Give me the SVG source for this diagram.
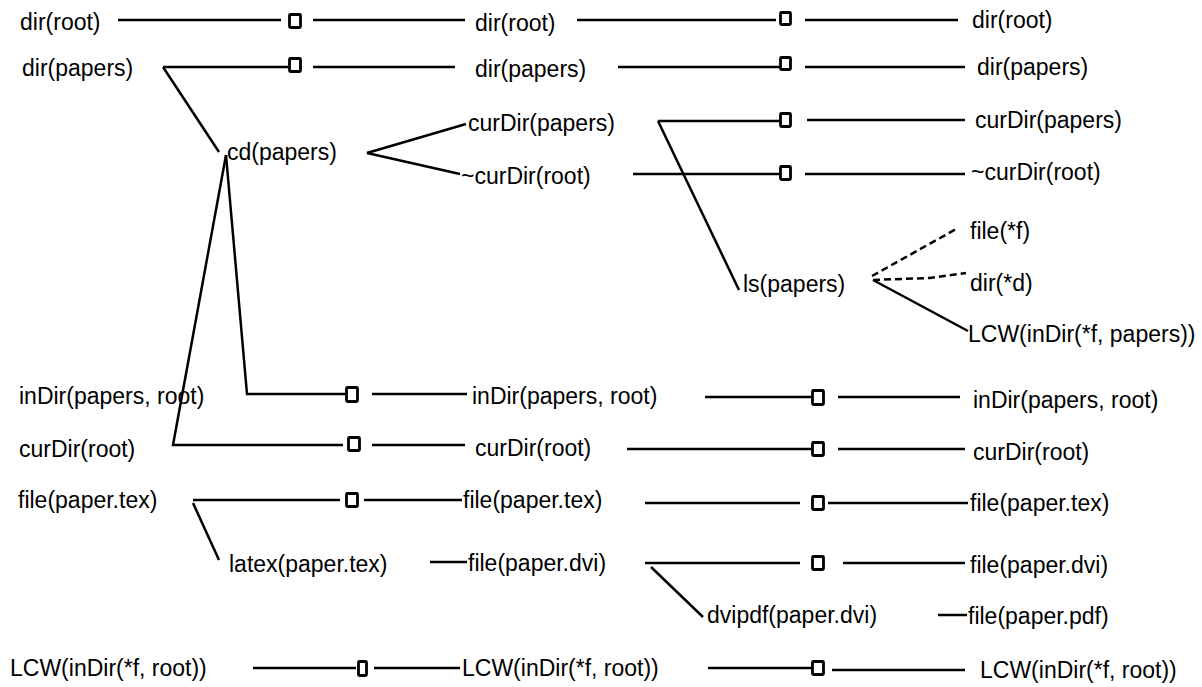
<svg xmlns="http://www.w3.org/2000/svg" width="1202" height="687" viewBox="0 0 1202 687">
  <style>
    text { font-family: "Liberation Sans", Arial, Helvetica, sans-serif; font-size: 23px; fill: #000; }
    .edge { fill: none; stroke: #000; stroke-width: 2.5; stroke-linecap: butt; stroke-linejoin: miter; }
    .dash { fill: none; stroke: #000; stroke-width: 2.5; stroke-dasharray: 7 4; }
    .frame { fill: #fff; stroke: #000; stroke-width: 2.8; }
  </style>
  <rect width="1202" height="687" fill="#fff"/>

  <!-- connectors -->
  <g id="connectors">
    <!-- dir(root) persists -->
    <line class="edge" x1="118" y1="20" x2="281" y2="20"/>
    <line class="edge" x1="313" y1="20" x2="465" y2="20"/>
    <line class="edge" x1="577" y1="20" x2="776" y2="20"/>
    <line class="edge" x1="805" y1="20" x2="958" y2="20"/>
    <!-- dir(papers) persists -->
    <line class="edge" x1="163" y1="67" x2="288" y2="67"/>
    <line class="edge" x1="313" y1="67" x2="455" y2="67"/>
    <line class="edge" x1="618" y1="67" x2="780" y2="67"/>
    <line class="edge" x1="805" y1="67" x2="965" y2="67"/>
    <!-- dir(papers) enables cd(papers) -->
    <line class="edge" x1="163" y1="67" x2="219" y2="152"/>
    <!-- cd(papers) effects -->
    <line class="edge" x1="367" y1="153" x2="466" y2="124"/>
    <line class="edge" x1="367" y1="153" x2="460" y2="174"/>
    <!-- cd(papers) preconditions -->
    <polyline class="edge" points="226,155 247,394 345,394"/>
    <polyline class="edge" points="226,155 173,445 343,445"/>
    <!-- curDir(papers) -->
    <line class="edge" x1="658" y1="121" x2="780" y2="121"/>
    <line class="edge" x1="807" y1="120" x2="965" y2="120"/>
    <line class="edge" x1="658" y1="121" x2="739" y2="290"/>
    <!-- ~curDir(root) -->
    <line class="edge" x1="633" y1="174" x2="780" y2="174"/>
    <line class="edge" x1="805" y1="174" x2="965" y2="174"/>
    <!-- ls(papers) effects -->
    <line class="dash" x1="872" y1="276" x2="958" y2="228"/>
    <polyline class="dash" points="873,280 930,278 966,273"/>
    <line class="edge" x1="873" y1="280" x2="968" y2="331"/>
    <!-- inDir(papers, root) -->
    <line class="edge" x1="372" y1="394" x2="467" y2="394"/>
    <line class="edge" x1="705" y1="397" x2="812" y2="397"/>
    <line class="edge" x1="838" y1="397" x2="960" y2="397"/>
    <!-- curDir(root) -->
    <line class="edge" x1="372" y1="445" x2="465" y2="445"/>
    <line class="edge" x1="627" y1="449" x2="812" y2="449"/>
    <line class="edge" x1="838" y1="449" x2="965" y2="449"/>
    <!-- file(paper.tex) -->
    <line class="edge" x1="193" y1="500" x2="340" y2="500"/>
    <line class="edge" x1="364" y1="500" x2="462" y2="500"/>
    <line class="edge" x1="193" y1="503" x2="219" y2="560"/>
    <line class="edge" x1="645" y1="503" x2="800" y2="503"/>
    <line class="edge" x1="828" y1="503" x2="968" y2="503"/>
    <!-- latex(paper.tex) effect -->
    <line class="edge" x1="430" y1="562" x2="467" y2="562"/>
    <!-- file(paper.dvi) -->
    <line class="edge" x1="645" y1="563" x2="800" y2="563"/>
    <line class="edge" x1="843" y1="563" x2="965" y2="563"/>
    <line class="edge" x1="651" y1="567" x2="703" y2="617"/>
    <!-- dvipdf(paper.dvi) effect -->
    <line class="edge" x1="938" y1="615" x2="967" y2="615"/>
    <!-- LCW(inDir(*f, root)) -->
    <line class="edge" x1="253" y1="668" x2="356" y2="668"/>
    <line class="edge" x1="374" y1="668" x2="460" y2="668"/>
    <line class="edge" x1="708" y1="668" x2="812" y2="668"/>
    <line class="edge" x1="832" y1="670" x2="965" y2="670"/>
  </g>

  <!-- frame markers on persisting facts -->
  <g id="frame-marks">
    <rect class="frame" x="289.5" y="14.5" width="11" height="13" rx="1"/>
    <rect class="frame" x="780.5" y="12.5" width="10" height="12" rx="1"/>
    <rect class="frame" x="289.5" y="58.5" width="11" height="13" rx="1"/>
    <rect class="frame" x="780.5" y="57.5" width="10" height="12" rx="1"/>
    <rect class="frame" x="780.5" y="113.5" width="10" height="13" rx="1"/>
    <rect class="frame" x="780.5" y="166.5" width="10" height="13" rx="1"/>
    <rect class="frame" x="346.5" y="387.5" width="11" height="14" rx="1"/>
    <rect class="frame" x="812.5" y="390.5" width="11" height="14" rx="1"/>
    <rect class="frame" x="348.5" y="437.5" width="11" height="13" rx="1"/>
    <rect class="frame" x="812.5" y="442.5" width="11" height="13" rx="1"/>
    <rect class="frame" x="346.5" y="493.5" width="11" height="13" rx="1"/>
    <rect class="frame" x="812.5" y="496.5" width="11" height="13" rx="1"/>
    <rect class="frame" x="812.5" y="556.5" width="11" height="13" rx="1"/>
    <rect class="frame" x="358.5" y="661.5" width="8" height="14" rx="1"/>
    <rect class="frame" x="812.5" y="661.5" width="11" height="13" rx="1"/>
  </g>

  <!-- initial state -->
  <g id="n-dir-root-0"><text x="20" y="30">dir(root)</text></g>
  <g id="n-dir-papers-0"><text x="22" y="76">dir(papers)</text></g>
  <g id="n-indir-0"><text x="19" y="404">inDir(papers, root)</text></g>
  <g id="n-curdir-root-0"><text x="19" y="457">curDir(root)</text></g>
  <g id="n-file-tex-0"><text x="18" y="508">file(paper.tex)</text></g>
  <g id="n-lcw-root-0"><text x="10" y="676">LCW(inDir(*f, root))</text></g>

  <!-- actions -->
  <g id="a-cd"><text x="227" y="160">cd(papers)</text></g>
  <g id="a-latex"><text x="229" y="572">latex(paper.tex)</text></g>
  <g id="a-ls"><text x="743" y="292">ls(papers)</text></g>
  <g id="a-dvipdf"><text x="707" y="623">dvipdf(paper.dvi)</text></g>

  <!-- state after first step -->
  <g id="n-dir-root-1"><text x="475" y="31">dir(root)</text></g>
  <g id="n-dir-papers-1"><text x="475" y="77">dir(papers)</text></g>
  <g id="n-curdir-papers-1"><text x="468" y="131">curDir(papers)</text></g>
  <g id="n-not-curdir-root-1"><text x="461" y="184">~curDir(root)</text></g>
  <g id="n-indir-1"><text x="472" y="404">inDir(papers, root)</text></g>
  <g id="n-curdir-root-1"><text x="475" y="456">curDir(root)</text></g>
  <g id="n-file-tex-1"><text x="463" y="508">file(paper.tex)</text></g>
  <g id="n-file-dvi-1"><text x="468" y="571">file(paper.dvi)</text></g>
  <g id="n-lcw-root-1"><text x="462" y="676">LCW(inDir(*f, root))</text></g>

  <!-- state after second step -->
  <g id="n-dir-root-2"><text x="972" y="28">dir(root)</text></g>
  <g id="n-dir-papers-2"><text x="977" y="75">dir(papers)</text></g>
  <g id="n-curdir-papers-2"><text x="975" y="128">curDir(papers)</text></g>
  <g id="n-not-curdir-root-2"><text x="971" y="180">~curDir(root)</text></g>
  <g id="n-file-f"><text x="970" y="239">file(*f)</text></g>
  <g id="n-dir-d"><text x="970" y="291">dir(*d)</text></g>
  <g id="n-lcw-papers"><text x="968" y="342">LCW(inDir(*f, papers))</text></g>
  <g id="n-indir-2"><text x="973" y="408">inDir(papers, root)</text></g>
  <g id="n-curdir-root-2"><text x="973" y="460">curDir(root)</text></g>
  <g id="n-file-tex-2"><text x="970" y="511">file(paper.tex)</text></g>
  <g id="n-file-dvi-2"><text x="970" y="573">file(paper.dvi)</text></g>
  <g id="n-file-pdf"><text x="968" y="624">file(paper.pdf)</text></g>
  <g id="n-lcw-root-2"><text x="980" y="678">LCW(inDir(*f, root))</text></g>
</svg>
